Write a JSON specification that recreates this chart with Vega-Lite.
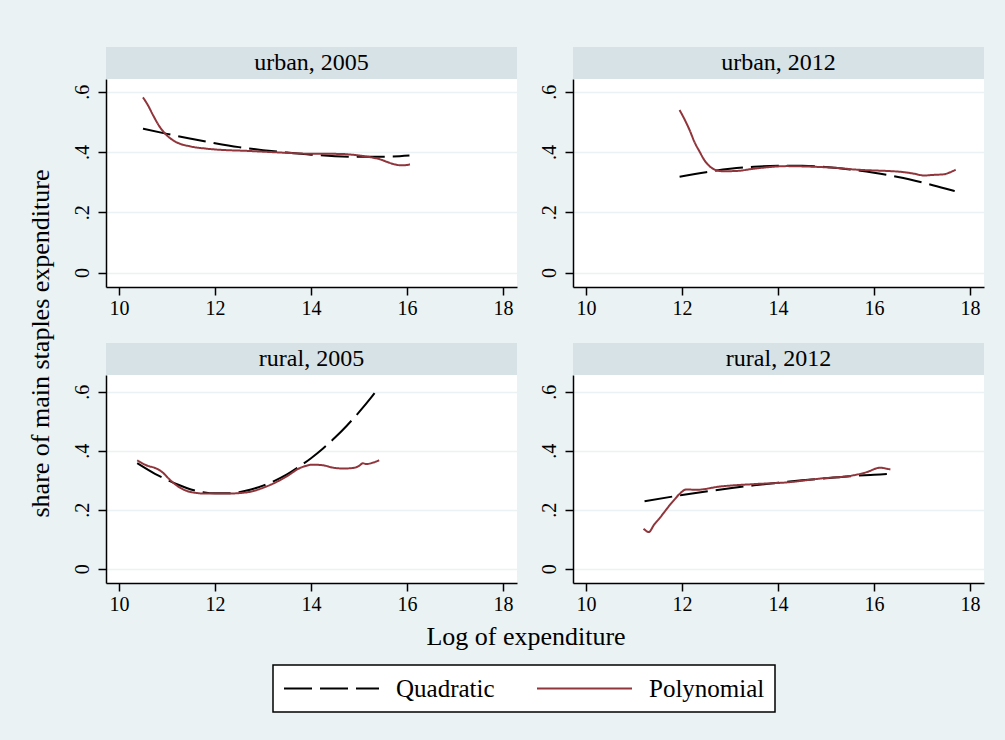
{
  "$schema": "https://vega.github.io/schema/vega-lite/v6.json",
  "background": "#EAF2F3",
  "padding": {"left": 27, "top": 47, "right": 21, "bottom": 28},
  "datasets": {
    "panels": [
      {"panel": "urban, 2005"}, {"panel": "urban, 2012"}, {"panel": "rural, 2005"}, {"panel": "rural, 2012"}
    ],
    "curves": [
      {"panel": "urban, 2005", "fit": "Quadratic", "x": 10.5, "y": 0.477},
      {"panel": "urban, 2005", "fit": "Quadratic", "x": 11.0, "y": 0.460},
      {"panel": "urban, 2005", "fit": "Quadratic", "x": 11.5, "y": 0.444},
      {"panel": "urban, 2005", "fit": "Quadratic", "x": 12.0, "y": 0.429},
      {"panel": "urban, 2005", "fit": "Quadratic", "x": 12.5, "y": 0.416},
      {"panel": "urban, 2005", "fit": "Quadratic", "x": 13.0, "y": 0.406},
      {"panel": "urban, 2005", "fit": "Quadratic", "x": 13.5, "y": 0.398},
      {"panel": "urban, 2005", "fit": "Quadratic", "x": 14.0, "y": 0.391},
      {"panel": "urban, 2005", "fit": "Quadratic", "x": 14.5, "y": 0.386},
      {"panel": "urban, 2005", "fit": "Quadratic", "x": 15.0, "y": 0.384},
      {"panel": "urban, 2005", "fit": "Quadratic", "x": 15.5, "y": 0.384},
      {"panel": "urban, 2005", "fit": "Quadratic", "x": 16.05, "y": 0.388},

      {"panel": "urban, 2005", "fit": "Polynomial", "x": 10.5, "y": 0.581},
      {"panel": "urban, 2005", "fit": "Polynomial", "x": 10.6, "y": 0.556},
      {"panel": "urban, 2005", "fit": "Polynomial", "x": 10.71, "y": 0.522},
      {"panel": "urban, 2005", "fit": "Polynomial", "x": 10.85, "y": 0.483},
      {"panel": "urban, 2005", "fit": "Polynomial", "x": 10.99, "y": 0.456},
      {"panel": "urban, 2005", "fit": "Polynomial", "x": 11.19, "y": 0.433},
      {"panel": "urban, 2005", "fit": "Polynomial", "x": 11.47, "y": 0.419},
      {"panel": "urban, 2005", "fit": "Polynomial", "x": 11.82, "y": 0.411},
      {"panel": "urban, 2005", "fit": "Polynomial", "x": 12.24, "y": 0.406},
      {"panel": "urban, 2005", "fit": "Polynomial", "x": 12.6, "y": 0.404},
      {"panel": "urban, 2005", "fit": "Polynomial", "x": 13.0, "y": 0.401},
      {"panel": "urban, 2005", "fit": "Polynomial", "x": 13.5, "y": 0.397},
      {"panel": "urban, 2005", "fit": "Polynomial", "x": 14.0, "y": 0.394},
      {"panel": "urban, 2005", "fit": "Polynomial", "x": 14.3, "y": 0.394},
      {"panel": "urban, 2005", "fit": "Polynomial", "x": 14.67, "y": 0.393},
      {"panel": "urban, 2005", "fit": "Polynomial", "x": 15.01, "y": 0.388},
      {"panel": "urban, 2005", "fit": "Polynomial", "x": 15.29, "y": 0.381},
      {"panel": "urban, 2005", "fit": "Polynomial", "x": 15.43, "y": 0.376},
      {"panel": "urban, 2005", "fit": "Polynomial", "x": 15.6, "y": 0.366},
      {"panel": "urban, 2005", "fit": "Polynomial", "x": 15.71, "y": 0.360},
      {"panel": "urban, 2005", "fit": "Polynomial", "x": 15.85, "y": 0.356},
      {"panel": "urban, 2005", "fit": "Polynomial", "x": 15.95, "y": 0.356},
      {"panel": "urban, 2005", "fit": "Polynomial", "x": 16.06, "y": 0.359},

      {"panel": "urban, 2012", "fit": "Quadratic", "x": 11.95, "y": 0.318},
      {"panel": "urban, 2012", "fit": "Quadratic", "x": 12.5, "y": 0.333},
      {"panel": "urban, 2012", "fit": "Quadratic", "x": 13.0, "y": 0.344},
      {"panel": "urban, 2012", "fit": "Quadratic", "x": 13.5, "y": 0.351},
      {"panel": "urban, 2012", "fit": "Quadratic", "x": 14.0, "y": 0.354},
      {"panel": "urban, 2012", "fit": "Quadratic", "x": 14.5, "y": 0.354},
      {"panel": "urban, 2012", "fit": "Quadratic", "x": 15.0, "y": 0.350},
      {"panel": "urban, 2012", "fit": "Quadratic", "x": 15.5, "y": 0.342},
      {"panel": "urban, 2012", "fit": "Quadratic", "x": 16.0, "y": 0.331},
      {"panel": "urban, 2012", "fit": "Quadratic", "x": 16.5, "y": 0.317},
      {"panel": "urban, 2012", "fit": "Quadratic", "x": 17.0, "y": 0.299},
      {"panel": "urban, 2012", "fit": "Quadratic", "x": 17.5, "y": 0.278},
      {"panel": "urban, 2012", "fit": "Quadratic", "x": 17.68, "y": 0.270},

      {"panel": "urban, 2012", "fit": "Polynomial", "x": 11.95, "y": 0.539},
      {"panel": "urban, 2012", "fit": "Polynomial", "x": 12.06, "y": 0.506},
      {"panel": "urban, 2012", "fit": "Polynomial", "x": 12.16, "y": 0.472},
      {"panel": "urban, 2012", "fit": "Polynomial", "x": 12.26, "y": 0.433},
      {"panel": "urban, 2012", "fit": "Polynomial", "x": 12.37, "y": 0.400},
      {"panel": "urban, 2012", "fit": "Polynomial", "x": 12.47, "y": 0.372},
      {"panel": "urban, 2012", "fit": "Polynomial", "x": 12.58, "y": 0.352},
      {"panel": "urban, 2012", "fit": "Polynomial", "x": 12.72, "y": 0.339},
      {"panel": "urban, 2012", "fit": "Polynomial", "x": 12.86, "y": 0.336},
      {"panel": "urban, 2012", "fit": "Polynomial", "x": 13.14, "y": 0.337},
      {"panel": "urban, 2012", "fit": "Polynomial", "x": 13.48, "y": 0.344},
      {"panel": "urban, 2012", "fit": "Polynomial", "x": 13.83, "y": 0.350},
      {"panel": "urban, 2012", "fit": "Polynomial", "x": 14.18, "y": 0.353},
      {"panel": "urban, 2012", "fit": "Polynomial", "x": 14.53, "y": 0.352},
      {"panel": "urban, 2012", "fit": "Polynomial", "x": 14.88, "y": 0.350},
      {"panel": "urban, 2012", "fit": "Polynomial", "x": 15.23, "y": 0.347},
      {"panel": "urban, 2012", "fit": "Polynomial", "x": 15.57, "y": 0.342},
      {"panel": "urban, 2012", "fit": "Polynomial", "x": 15.92, "y": 0.339},
      {"panel": "urban, 2012", "fit": "Polynomial", "x": 16.27, "y": 0.337},
      {"panel": "urban, 2012", "fit": "Polynomial", "x": 16.62, "y": 0.333},
      {"panel": "urban, 2012", "fit": "Polynomial", "x": 16.83, "y": 0.328},
      {"panel": "urban, 2012", "fit": "Polynomial", "x": 17.04, "y": 0.322},
      {"panel": "urban, 2012", "fit": "Polynomial", "x": 17.25, "y": 0.324},
      {"panel": "urban, 2012", "fit": "Polynomial", "x": 17.46, "y": 0.326},
      {"panel": "urban, 2012", "fit": "Polynomial", "x": 17.56, "y": 0.331},
      {"panel": "urban, 2012", "fit": "Polynomial", "x": 17.7, "y": 0.341},

      {"panel": "rural, 2005", "fit": "Quadratic", "x": 10.38, "y": 0.358},
      {"panel": "rural, 2005", "fit": "Quadratic", "x": 10.75, "y": 0.322},
      {"panel": "rural, 2005", "fit": "Quadratic", "x": 11.0, "y": 0.302},
      {"panel": "rural, 2005", "fit": "Quadratic", "x": 11.25, "y": 0.284},
      {"panel": "rural, 2005", "fit": "Quadratic", "x": 11.5, "y": 0.269},
      {"panel": "rural, 2005", "fit": "Quadratic", "x": 11.75, "y": 0.260},
      {"panel": "rural, 2005", "fit": "Quadratic", "x": 12.0, "y": 0.256},
      {"panel": "rural, 2005", "fit": "Quadratic", "x": 12.25, "y": 0.256},
      {"panel": "rural, 2005", "fit": "Quadratic", "x": 12.5, "y": 0.260},
      {"panel": "rural, 2005", "fit": "Quadratic", "x": 12.75, "y": 0.269},
      {"panel": "rural, 2005", "fit": "Quadratic", "x": 13.0, "y": 0.282},
      {"panel": "rural, 2005", "fit": "Quadratic", "x": 13.25, "y": 0.299},
      {"panel": "rural, 2005", "fit": "Quadratic", "x": 13.5, "y": 0.320},
      {"panel": "rural, 2005", "fit": "Quadratic", "x": 13.75, "y": 0.346},
      {"panel": "rural, 2005", "fit": "Quadratic", "x": 14.0, "y": 0.375},
      {"panel": "rural, 2005", "fit": "Quadratic", "x": 14.25, "y": 0.408},
      {"panel": "rural, 2005", "fit": "Quadratic", "x": 14.5, "y": 0.445},
      {"panel": "rural, 2005", "fit": "Quadratic", "x": 14.75, "y": 0.486},
      {"panel": "rural, 2005", "fit": "Quadratic", "x": 15.0, "y": 0.531},
      {"panel": "rural, 2005", "fit": "Quadratic", "x": 15.25, "y": 0.580},
      {"panel": "rural, 2005", "fit": "Quadratic", "x": 15.4, "y": 0.612},

      {"panel": "rural, 2005", "fit": "Polynomial", "x": 10.38, "y": 0.368},
      {"panel": "rural, 2005", "fit": "Polynomial", "x": 10.57, "y": 0.351},
      {"panel": "rural, 2005", "fit": "Polynomial", "x": 10.78, "y": 0.340},
      {"panel": "rural, 2005", "fit": "Polynomial", "x": 10.9, "y": 0.328},
      {"panel": "rural, 2005", "fit": "Polynomial", "x": 11.06, "y": 0.302},
      {"panel": "rural, 2005", "fit": "Polynomial", "x": 11.26, "y": 0.276},
      {"panel": "rural, 2005", "fit": "Polynomial", "x": 11.54, "y": 0.259},
      {"panel": "rural, 2005", "fit": "Polynomial", "x": 11.82, "y": 0.255},
      {"panel": "rural, 2005", "fit": "Polynomial", "x": 12.24, "y": 0.255},
      {"panel": "rural, 2005", "fit": "Polynomial", "x": 12.65, "y": 0.259},
      {"panel": "rural, 2005", "fit": "Polynomial", "x": 13.07, "y": 0.279},
      {"panel": "rural, 2005", "fit": "Polynomial", "x": 13.49, "y": 0.313},
      {"panel": "rural, 2005", "fit": "Polynomial", "x": 13.76, "y": 0.341},
      {"panel": "rural, 2005", "fit": "Polynomial", "x": 14.04, "y": 0.353},
      {"panel": "rural, 2005", "fit": "Polynomial", "x": 14.25, "y": 0.351},
      {"panel": "rural, 2005", "fit": "Polynomial", "x": 14.46, "y": 0.343},
      {"panel": "rural, 2005", "fit": "Polynomial", "x": 14.67, "y": 0.340},
      {"panel": "rural, 2005", "fit": "Polynomial", "x": 14.88, "y": 0.342},
      {"panel": "rural, 2005", "fit": "Polynomial", "x": 15.01, "y": 0.350},
      {"panel": "rural, 2005", "fit": "Polynomial", "x": 15.08, "y": 0.358},
      {"panel": "rural, 2005", "fit": "Polynomial", "x": 15.15, "y": 0.355},
      {"panel": "rural, 2005", "fit": "Polynomial", "x": 15.29, "y": 0.360},
      {"panel": "rural, 2005", "fit": "Polynomial", "x": 15.42, "y": 0.368},

      {"panel": "rural, 2012", "fit": "Quadratic", "x": 11.22, "y": 0.229},
      {"panel": "rural, 2012", "fit": "Quadratic", "x": 12.0, "y": 0.250},
      {"panel": "rural, 2012", "fit": "Quadratic", "x": 12.5, "y": 0.262},
      {"panel": "rural, 2012", "fit": "Quadratic", "x": 13.0, "y": 0.273},
      {"panel": "rural, 2012", "fit": "Quadratic", "x": 13.5, "y": 0.283},
      {"panel": "rural, 2012", "fit": "Quadratic", "x": 14.0, "y": 0.292},
      {"panel": "rural, 2012", "fit": "Quadratic", "x": 14.5, "y": 0.300},
      {"panel": "rural, 2012", "fit": "Quadratic", "x": 15.0, "y": 0.307},
      {"panel": "rural, 2012", "fit": "Quadratic", "x": 15.5, "y": 0.314},
      {"panel": "rural, 2012", "fit": "Quadratic", "x": 16.0, "y": 0.319},
      {"panel": "rural, 2012", "fit": "Quadratic", "x": 16.33, "y": 0.322},

      {"panel": "rural, 2012", "fit": "Polynomial", "x": 11.2, "y": 0.136},
      {"panel": "rural, 2012", "fit": "Polynomial", "x": 11.31, "y": 0.125},
      {"panel": "rural, 2012", "fit": "Polynomial", "x": 11.42, "y": 0.150},
      {"panel": "rural, 2012", "fit": "Polynomial", "x": 11.53, "y": 0.171},
      {"panel": "rural, 2012", "fit": "Polynomial", "x": 11.64, "y": 0.194},
      {"panel": "rural, 2012", "fit": "Polynomial", "x": 11.74, "y": 0.215},
      {"panel": "rural, 2012", "fit": "Polynomial", "x": 11.85, "y": 0.236},
      {"panel": "rural, 2012", "fit": "Polynomial", "x": 11.95, "y": 0.254},
      {"panel": "rural, 2012", "fit": "Polynomial", "x": 12.09, "y": 0.269},
      {"panel": "rural, 2012", "fit": "Polynomial", "x": 12.3, "y": 0.268},
      {"panel": "rural, 2012", "fit": "Polynomial", "x": 12.79, "y": 0.279},
      {"panel": "rural, 2012", "fit": "Polynomial", "x": 13.48, "y": 0.287},
      {"panel": "rural, 2012", "fit": "Polynomial", "x": 14.18, "y": 0.293},
      {"panel": "rural, 2012", "fit": "Polynomial", "x": 14.88, "y": 0.306},
      {"panel": "rural, 2012", "fit": "Polynomial", "x": 15.57, "y": 0.317},
      {"panel": "rural, 2012", "fit": "Polynomial", "x": 15.85, "y": 0.328},
      {"panel": "rural, 2012", "fit": "Polynomial", "x": 16.13, "y": 0.343},
      {"panel": "rural, 2012", "fit": "Polynomial", "x": 16.27, "y": 0.339},
      {"panel": "rural, 2012", "fit": "Polynomial", "x": 16.34, "y": 0.337}
    ]
  },
  "config": {
    "font": "Liberation Serif",
    "view": {"stroke": null, "fill": "white"},
    "style": {
      "guide-label": {"font": "Liberation Serif"},
      "guide-title": {"font": "Liberation Serif"},
      "group-title": {"font": "Liberation Serif"}
    },
    "axis": {
      "labelFont": "Liberation Serif", "labelFontSize": 20, "labelColor": "black",
      "domainColor": "black", "domainWidth": 1.5, "tickColor": "black", "tickWidth": 1.5,
      "tickSize": 8, "labelPadding": 3, "gridColor": "#EAF2F3", "gridWidth": 1.5
    },
    "axisY": {"labelAngle": -90, "labelAlign": "center", "labelBaseline": "bottom", "labelPadding": 6},
    "title": {"font": "Liberation Serif", "fontSize": 26, "fontWeight": "normal", "color": "black", "anchor": "middle"},
    "legend": {
      "orient": "none", "legendX": 167, "legendY": 618,
      "direction": "horizontal", "strokeColor": "black", "strokeWidth": 1.5, "fillColor": "white",
      "padding": 10, "labelFont": "Liberation Serif", "labelFontSize": 25, "labelColor": "black",
      "symbolType": "stroke", "symbolSize": 9025, "symbolStrokeWidth": 2,
      "columnPadding": 41, "labelOffset": 16, "clipHeight": 27
    }
  },
  "vconcat": [
    {
      "title": {"text": "Log of expenditure", "orient": "bottom", "offset": 10, "anchor": "middle", "dx": 20, "font": "Liberation Serif"},
      "vconcat": [
        {
          "title": {"text": "share of main staples expenditure", "orient": "left", "offset": 18, "anchor": "middle", "dx": -13, "font": "Liberation Serif"},
          "spacing": 25,
          "vconcat": [
            {
              "spacing": 22,
              "hconcat": [
                {
                  "bounds": "flush", "spacing": 0,
                  "vconcat": [
                    {"width": 411, "height": 32, "view": {"fill": "#D6E2E6", "stroke": null},
                     "data": {"name": "panels"}, "transform": [{"filter": "datum.panel == 'urban, 2005'"}],
                     "mark": {"type": "text", "fontSize": 24, "font": "Liberation Serif", "color": "black"},
                     "encoding": {"text": {"field": "panel", "type": "nominal"}}},
                    {"width": 411, "height": 208,
                     "data": {"name": "curves"}, "transform": [{"filter": "datum.panel == 'urban, 2005'"}],
                     "mark": {"type": "line", "strokeWidth": 2, "interpolate": "monotone"},
                     "encoding": {
                       "x": {"field": "x", "type": "quantitative", "scale": {"domain": [9.73, 18.29], "nice": false, "zero": false}, "axis": {"values": [10, 12, 14, 16, 18], "title": null, "grid": false}},
                       "y": {"field": "y", "type": "quantitative", "scale": {"domain": [-0.048, 0.642], "nice": false, "zero": false}, "axis": {"values": [0, 0.2, 0.4, 0.6], "title": null, "grid": true, "labelExpr": "datum.value == 0 ? '0' : replace(format(datum.value, '.1f'), '0.', '.')"}},
                       "color": {"field": "fit", "type": "nominal", "title": null, "scale": {"domain": ["Quadratic", "Polynomial"], "range": ["#000000", "#90353B"]}},
                       "strokeDash": {"field": "fit", "type": "nominal", "title": null, "scale": {"domain": ["Quadratic", "Polynomial"], "range": [[28, 8], [1, 0]]}}
                     }}
                  ]
                },
                {
                  "bounds": "flush", "spacing": 0,
                  "vconcat": [
                    {"width": 411, "height": 32, "view": {"fill": "#D6E2E6", "stroke": null},
                     "data": {"name": "panels"}, "transform": [{"filter": "datum.panel == 'urban, 2012'"}],
                     "mark": {"type": "text", "fontSize": 24, "font": "Liberation Serif", "color": "black"},
                     "encoding": {"text": {"field": "panel", "type": "nominal"}}},
                    {"width": 411, "height": 208,
                     "data": {"name": "curves"}, "transform": [{"filter": "datum.panel == 'urban, 2012'"}],
                     "mark": {"type": "line", "strokeWidth": 2, "interpolate": "monotone"},
                     "encoding": {
                       "x": {"field": "x", "type": "quantitative", "scale": {"domain": [9.73, 18.29], "nice": false, "zero": false}, "axis": {"values": [10, 12, 14, 16, 18], "title": null, "grid": false}},
                       "y": {"field": "y", "type": "quantitative", "scale": {"domain": [-0.048, 0.642], "nice": false, "zero": false}, "axis": {"values": [0, 0.2, 0.4, 0.6], "title": null, "grid": true, "labelExpr": "datum.value == 0 ? '0' : replace(format(datum.value, '.1f'), '0.', '.')"}},
                       "color": {"field": "fit", "type": "nominal", "title": null, "scale": {"domain": ["Quadratic", "Polynomial"], "range": ["#000000", "#90353B"]}},
                       "strokeDash": {"field": "fit", "type": "nominal", "title": null, "scale": {"domain": ["Quadratic", "Polynomial"], "range": [[28, 8], [1, 0]]}}
                     }}
                  ]
                }
              ]
            },
            {
              "spacing": 22,
              "hconcat": [
                {
                  "bounds": "flush", "spacing": 0,
                  "vconcat": [
                    {"width": 411, "height": 32, "view": {"fill": "#D6E2E6", "stroke": null},
                     "data": {"name": "panels"}, "transform": [{"filter": "datum.panel == 'rural, 2005'"}],
                     "mark": {"type": "text", "fontSize": 24, "font": "Liberation Serif", "color": "black"},
                     "encoding": {"text": {"field": "panel", "type": "nominal"}}},
                    {"width": 411, "height": 208,
                     "data": {"name": "curves"}, "transform": [{"filter": "datum.panel == 'rural, 2005'"}],
                     "mark": {"type": "line", "strokeWidth": 2, "interpolate": "monotone"},
                     "encoding": {
                       "x": {"field": "x", "type": "quantitative", "scale": {"domain": [9.73, 18.29], "nice": false, "zero": false}, "axis": {"values": [10, 12, 14, 16, 18], "title": null, "grid": false}},
                       "y": {"field": "y", "type": "quantitative", "scale": {"domain": [-0.048, 0.657], "nice": false, "zero": false}, "axis": {"values": [0, 0.2, 0.4, 0.6], "title": null, "grid": true, "labelExpr": "datum.value == 0 ? '0' : replace(format(datum.value, '.1f'), '0.', '.')"}},
                       "color": {"field": "fit", "type": "nominal", "title": null, "scale": {"domain": ["Quadratic", "Polynomial"], "range": ["#000000", "#90353B"]}},
                       "strokeDash": {"field": "fit", "type": "nominal", "title": null, "scale": {"domain": ["Quadratic", "Polynomial"], "range": [[28, 8], [1, 0]]}}
                     }}
                  ]
                },
                {
                  "bounds": "flush", "spacing": 0,
                  "vconcat": [
                    {"width": 411, "height": 32, "view": {"fill": "#D6E2E6", "stroke": null},
                     "data": {"name": "panels"}, "transform": [{"filter": "datum.panel == 'rural, 2012'"}],
                     "mark": {"type": "text", "fontSize": 24, "font": "Liberation Serif", "color": "black"},
                     "encoding": {"text": {"field": "panel", "type": "nominal"}}},
                    {"width": 411, "height": 208,
                     "data": {"name": "curves"}, "transform": [{"filter": "datum.panel == 'rural, 2012'"}],
                     "mark": {"type": "line", "strokeWidth": 2, "interpolate": "monotone"},
                     "encoding": {
                       "x": {"field": "x", "type": "quantitative", "scale": {"domain": [9.73, 18.29], "nice": false, "zero": false}, "axis": {"values": [10, 12, 14, 16, 18], "title": null, "grid": false}},
                       "y": {"field": "y", "type": "quantitative", "scale": {"domain": [-0.048, 0.657], "nice": false, "zero": false}, "axis": {"values": [0, 0.2, 0.4, 0.6], "title": null, "grid": true, "labelExpr": "datum.value == 0 ? '0' : replace(format(datum.value, '.1f'), '0.', '.')"}},
                       "color": {"field": "fit", "type": "nominal", "title": null, "scale": {"domain": ["Quadratic", "Polynomial"], "range": ["#000000", "#90353B"]}},
                       "strokeDash": {"field": "fit", "type": "nominal", "title": null, "scale": {"domain": ["Quadratic", "Polynomial"], "range": [[28, 8], [1, 0]]}}
                     }}
                  ]
                }
              ]
            }
          ]
        }
      ]
    }
  ]
}
